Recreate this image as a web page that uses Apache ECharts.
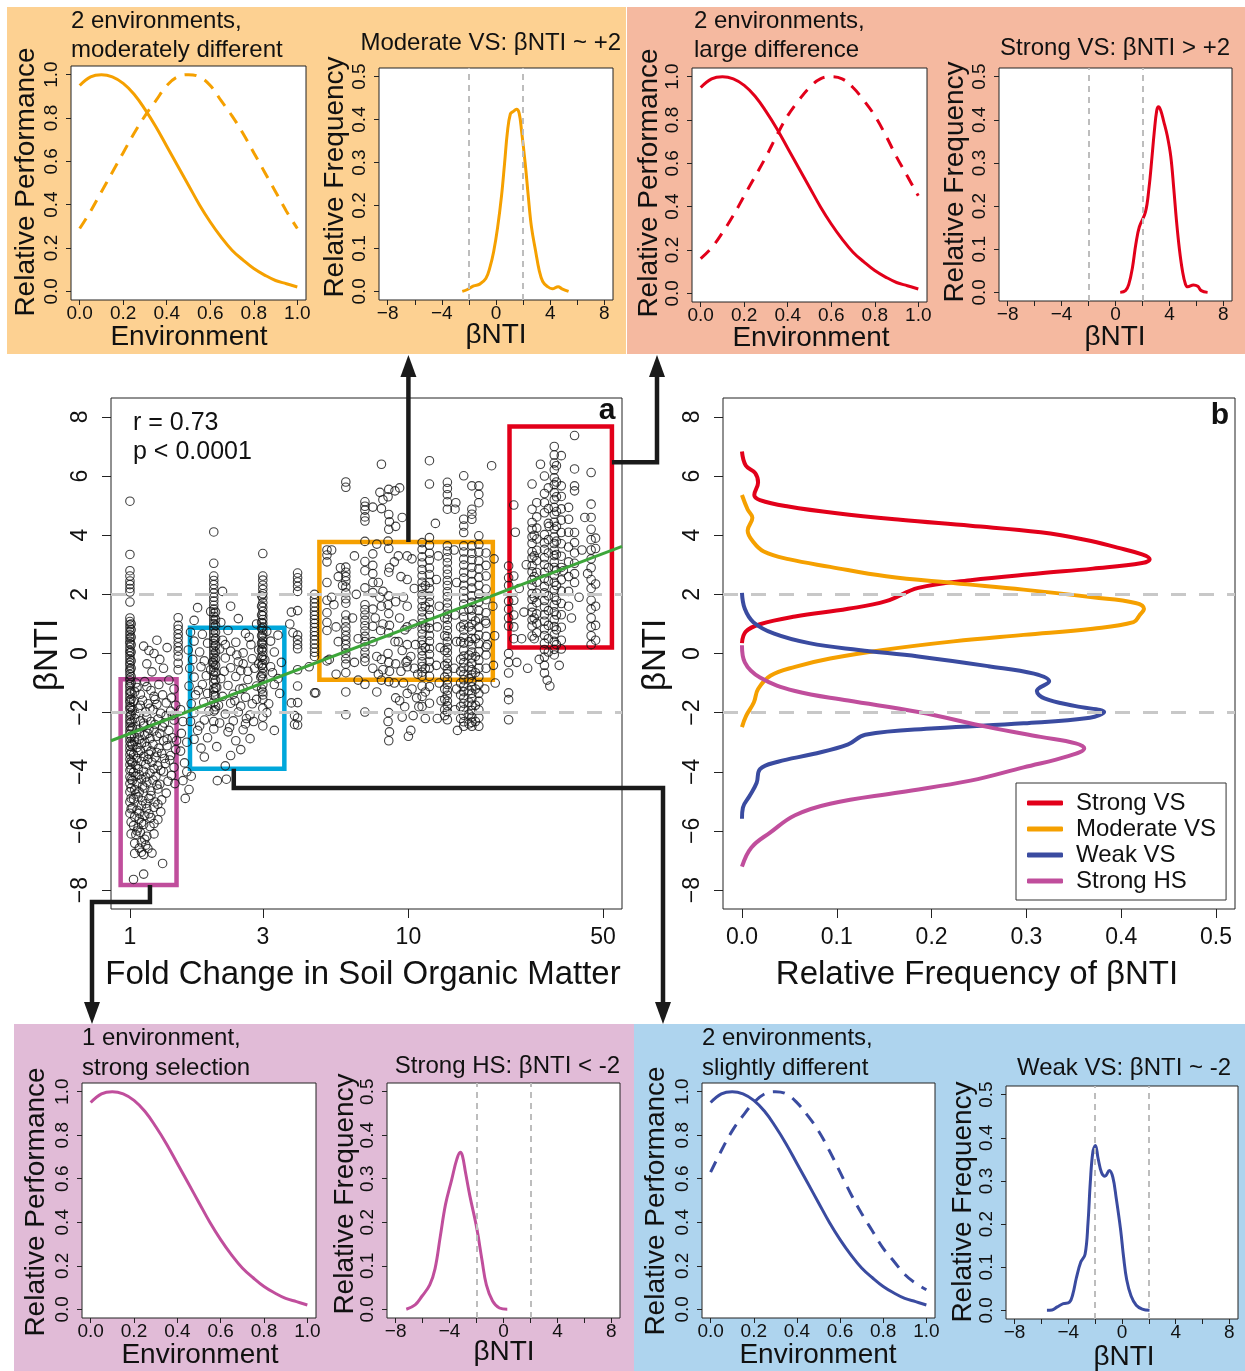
<!DOCTYPE html>
<html><head><meta charset="utf-8">
<script src="https://cdn.jsdelivr.net/npm/echarts@6/dist/echarts.min.js"></script>
<style>html,body{margin:0;padding:0;background:#fff}#c{width:1245px;height:1371px}</style>
</head><body><div id="c"></div>
<script>
// ---------------- DATA ----------------
const perfEnv = [0,0.05,0.1,0.15,0.2,0.25,0.3,0.35,0.4,0.45,0.5,0.55,0.6,0.65,0.7,0.75,0.8,0.85,0.9,0.95,1.0];
const perfSolid = [0.95,0.99,1.0,0.99,0.96,0.91,0.84,0.76,0.67,0.58,0.49,0.40,0.32,0.25,0.19,0.145,0.105,0.075,0.05,0.035,0.02];
const perfModerate = [0.29,0.37,0.46,0.55,0.64,0.73,0.81,0.88,0.95,0.99,1.0,0.99,0.95,0.88,0.81,0.73,0.64,0.55,0.46,0.37,0.29];
const perfLarge = [0.16,0.21,0.28,0.36,0.45,0.54,0.63,0.73,0.82,0.89,0.95,0.99,1.0,0.99,0.95,0.89,0.82,0.73,0.63,0.54,0.45];
const perfSlight = [0.63,0.73,0.82,0.89,0.95,0.99,1.0,0.99,0.95,0.89,0.82,0.73,0.63,0.53,0.44,0.36,0.28,0.22,0.16,0.12,0.09];

// density curves: [betaNTI, relative frequency]
const densStrongVS = [[6.83,0],[6.36,0.004],[6.1,0.014],[5.78,0.017],[5.36,0.013],[5.19,0.019],[4.97,0.049],[4.74,0.10],[4.52,0.167],[4.32,0.241],[4.10,0.315],[3.84,0.363],[3.58,0.396],[3.35,0.422],[3.19,0.430],[3.06,0.422],[2.87,0.37],[2.71,0.315],[2.48,0.241],[2.22,0.186],[1.77,0.152],[1.51,0.112],[1.25,0.056],[0.99,0.019],[0.74,0.004],[0.35,0]];
const densModerateVS = [[5.36,0],[4.87,0.006],[4.59,0.011],[4.16,0.006],[3.77,0.012],[3.45,0.023],[3.19,0.049],[2.93,0.093],[2.61,0.152],[2.38,0.223],[2.16,0.297],[1.90,0.37],[1.71,0.415],[1.51,0.424],[1.28,0.419],[1.06,0.413],[0.84,0.37],[0.63,0.297],[0.41,0.223],[0.12,0.149],[-0.17,0.093],[-0.45,0.056],[-0.75,0.030],[-1.2,0.017],[-1.65,0.0126],[-2.11,0.0044],[-2.49,0]];
const densWeakVS = [[2.05,0],[1.51,0.003],[1.06,0.012],[0.67,0.034],[0.35,0.071],[0.12,0.123],[-0.10,0.186],[-0.43,0.26],[-0.68,0.308],[-0.94,0.324],[-1.27,0.311],[-1.52,0.319],[-1.78,0.352],[-1.98,0.382],[-2.17,0.367],[-2.36,0.297],[-2.53,0.204],[-2.75,0.130],[-3.07,0.112],[-3.40,0.075],[-3.66,0.038],[-3.91,0.019],[-4.37,0.0155],[-4.82,0.008],[-5.21,0.001],[-5.59,0]];
const densStrongHS = [[0.28,0],[-0.30,0.003],[-0.81,0.019],[-1.27,0.056],[-1.59,0.112],[-1.98,0.186],[-2.49,0.26],[-2.82,0.315],[-3.04,0.352],[-3.20,0.361],[-3.46,0.345],[-3.85,0.297],[-4.30,0.241],[-4.69,0.167],[-5.08,0.093],[-5.47,0.056],[-6.05,0.030],[-6.56,0.010],[-7.21,0]];

// scatter: vertical strips at fold-change values
const soilColFC = [1.00,1.01,1.49,2.00,2.03,2.97,3.00,4.00,4.60,5.10,5.96,6.98,7.45,9.9,11.2,11.5,11.9,13.5,13.8,15.4,15.8,16.5,16.9,17.4,17.9,19.0,22.9,23.9,27.8,28.3,28.9,30.8,31.8,33.4,34.0,35.4,37.6,39.5,45.3,47.0];
const soilColBNTI = [
 [5.15,3.35,2.8,2.62,2.45,2.33,2.2,2.08,1.74,1.2,1.08,0.97,0.86,0.74,0.63,0.52,0.41,0.33,0.21,0.1,0.02,-0.09,-0.2,-0.31,-0.4,-0.52,-0.6,-0.71,-0.83,-0.92,-1.04,-1.13,-1.26,-1.35,-1.47,-1.58,-1.66,-1.79,-1.88,-2.01,-2.12,-2.24,-2.35,-2.47,-2.6,-2.72,-2.86,-2.98,-3.13,-3.27,-3.42,-3.58,-3.76,-3.95,-4.17,-4.4,-4.68,-5.02,-5.4],
 [1.0,0.8,0.55,0.3,0.05,-0.25,-0.5,-0.78,-1.0,-1.3,-1.55,-1.82,-2.08,-2.32,-2.55,-2.8,-3.05,-3.35,-3.65,-3.9,-4.25,-4.55,-4.9,-5.25,-5.7,-6.1],
 [1.21,0.95,0.82,0.66,0.52,0.37,0.22,0.08,-0.1,-0.33,-0.55],
 [4.11,3.05,2.62,2.47,2.33,2.18,2.04,1.9,1.77,1.63,1.5,1.37,1.25,1.13,1.01,0.9,0.78,0.67,0.55,0.44,0.33,0.21,0.1,-0.02,-0.13,-0.25,-0.36,-0.48,-0.6,-0.73,-0.86,-1.0,-1.2,-1.42,-1.65,-1.95,-2.3],
 [1.4,1.15,0.95,0.72,0.5,0.27,0.05,-0.18,-0.4,-0.65,-0.9,-1.15,-1.45,-1.8],
 [1.95,1.6,1.3,1.05,0.85,0.6,0.35,0.12,-0.12,-0.4,-0.75,-1.2],
 [3.38,2.62,2.48,2.31,2.17,2.02,1.88,1.72,1.56,1.42,1.28,1.15,1.02,0.9,0.78,0.66,0.54,0.42,0.31,0.19,0.07,-0.06,-0.2,-0.35,-0.5,-0.68,-0.86,-1.06,-1.3,-1.55,-1.85,-2.15,-2.45],
 [2.72,2.56,2.42,2.27,2.1,1.45,0.62,0.46,0.3,0.16,-0.55,-1.1,-1.66,-2.18,-2.42],
 [2.0,1.85,1.71,1.57,1.43,1.29,1.15,1.02,0.88,0.74,0.6,0.46,0.32,0.18,0.04,-0.1,-1.33],
 [3.5,3.33,3.1,2.4,1.8,1.38,1.05,0.78,-0.25],
 [5.8,5.62,2.92,2.75,2.6,2.45,2.25,2.05,1.85,1.7,1.3,1.1,0.9,0.76,0.6,0.45,0.3,0.15,0.0,-0.18,-0.36,-0.65,-1.3,-2.07],
 [5.13,4.98,4.85,4.62,4.48,3.79,3.11,2.8,2.22,1.65,1.48,1.3,1.12,0.94,0.76,0.58,0.4,0.22,0.04,-0.15,-0.27,-1.04,-1.98],
 [4.95,3.37,2.98,2.7,2.4,2.06,1.5,0.92,0.4,-0.5],
 [3.3,2.5,1.6,0.9,0.3,-0.25],
 [3.75,3.52,3.27,3.06,2.84,2.63,2.41,2.21,1.99,1.8,1.58,1.41,1.2,1.03,0.83,0.66,0.45,0.29,0.09,-0.08,-0.28,-0.44,-0.63,-0.77,-1.1,-1.45,-1.79],
 [2.3,1.6,0.9,0.2,-0.5,-1.3,-2.2],
 [6.52,5.73,3.92,3.66,3.39,3.16,2.89,2.67,2.41,2.19,1.94,1.73,1.49,1.29,1.05,0.85,0.61,0.41,0.17,-0.03,-0.27,-0.49,-0.77,-1.12,-1.68],
 [1.2,0.6,0.1,-0.4,-0.8,-1.2,-1.55,-1.9,-2.1],
 [5.79,5.58,5.37,5.13,4.88,3.64,3.46,3.24,3.07,2.85,2.68,2.47,2.3,2.09,1.92,1.71,1.54,1.33,1.16,0.95,0.78,0.57,0.4,0.19,0.03,-0.17,-0.33,-0.53,-0.69,-0.89,-1.05,-1.25,-1.41,-1.61,-1.77,-1.97,-2.24],
 [0.9,0.4,-0.2,-0.6,-1.0,-1.4,-1.8,-2.2],
 [6.01,4.54,4.31,4.09,3.64,3.43,3.19,2.99,2.75,2.55,2.31,2.11,1.87,1.67,1.43,1.23,0.99,0.79,0.55,0.35,0.11,-0.09,-0.31,-0.49,-0.71,-0.89,-1.11,-1.29,-1.51,-1.69,-1.91,-2.09,-2.31,-2.46],
 [1.5,0.9,0.4,-0.05,-0.45,-0.85,-1.25,-1.65,-2.05,-2.38],
 [5.67,4.88,4.71,4.54,3.64,3.39,3.17,2.91,2.69,2.43,2.21,1.95,1.73,1.47,1.25,0.99,0.77,0.51,0.29,0.05,-0.15,-0.33,-0.55,-0.73,-0.95,-1.13,-1.35,-1.53,-1.75,-1.93,-2.15,-2.33,-2.46],
 [1.1,0.5,-0.1,-0.65,-1.2,-1.75,-2.3],
 [5.67,5.38,5.1,3.98,3.69,3.43,3.13,2.87,2.57,2.31,2.01,1.75,1.45,1.19,0.89,0.63,0.33,0.07,-0.23,-0.49,-0.79,-1.05,-1.35,-1.61,-1.91,-2.17,-2.46],
 [3.4,2.98,2.62,2.18,1.82,1.38,1.02,0.58,0.22,-0.05],
 [2.96,2.56,2.3,1.77,1.5,1.2,0.93,0.0,-0.3,-0.66,-1.33,-1.56,-2.24],
 [5.02,2.62,1.8,1.3,0.9,0.5],
 [5.73,4.88,4.43,4.21,3.94,3.72,3.44,3.23,2.97,2.76,2.49,2.29,2.03,1.83,1.57,1.39,1.14,0.93,0.59],
 [4.0,3.3,2.6,1.9,1.2,0.5],
 [5.1,4.62,4.24,3.87,3.49,3.14,2.74,2.41,2.04,1.72,1.34,1.02,0.7],
 [6.0,5.41,5.1,4.76,4.02,3.74,3.52,3.24,3.01,2.75,2.53,2.27,2.05,1.79,1.57,1.31,1.09,0.83,0.61,0.35,0.13,-0.12,-0.4,-0.66],
 [5.6,4.9,4.4,3.85,3.4,2.9,2.45,1.95,1.45,0.95,0.5,0.05],
 [7.0,6.71,6.44,6.21,5.94,5.71,5.44,5.21,4.94,4.71,4.44,4.21,3.94,3.72,3.49,3.31,3.09,2.91,2.64,2.41,2.14,1.91,1.64,1.41,1.14,0.91,0.64,0.41,0.14,-0.05],
 [6.35,5.8,5.3,4.8,4.3,3.8,3.35,2.8,2.3,1.8,1.3,0.8,0.3],
 [6.69,5.67,5.31,4.89,4.51,4.09,3.71,3.29,2.91,2.49,2.11,1.69,1.31,0.89,0.45,0.15],
 [4.94,4.54,4.1,3.6,3.1,2.6,2.1,1.6],
 [7.37,6.24,5.67,5.5,4.09,3.75,3.4,3.05,2.7,2.4],
 [6.12,5.05,4.6,4.2,3.85,3.5,3.2,2.9,2.5,2.2,1.8,1.5,1.2,0.9,0.6,0.3],
 [3.9,3.55,2.35,1.6,0.95,0.45]
];
// scatter: loose points [fold change, betaNTI]
const soilScatterLow = [
 [1.05,-1.0],[1.13,-0.95],[1.27,-1.05],[1.38,-0.9],[1.44,-1.2],[1.04,-1.3],[1.09,-1.38],[1.19,-1.25],[1.31,-1.4],[1.41,-1.5],
 [1.03,-1.62],[1.11,-1.58],[1.16,-1.7],[1.23,-1.55],[1.35,-1.67],[1.46,-1.75],[1.02,-1.93],[1.07,-1.85],[1.14,-1.98],[1.21,-1.9],[1.29,-2.02],[1.4,-1.95],
 [1.04,-2.2],[1.09,-2.28],[1.15,-2.15],[1.19,-2.3],[1.26,-2.22],[1.33,-2.35],[1.44,-2.25],[1.02,-2.5],[1.06,-2.58],[1.12,-2.45],[1.17,-2.55],[1.22,-2.62],[1.31,-2.48],[1.38,-2.6],
 [1.04,-2.82],[1.08,-2.9],[1.13,-2.76],[1.18,-2.88],[1.25,-2.8],[1.32,-2.95],[1.42,-2.85],[1.02,-3.1],[1.06,-3.18],[1.1,-3.05],[1.15,-3.15],[1.21,-3.08],[1.27,-3.2],[1.36,-3.12],[1.46,-3.25],
 [1.03,-3.42],[1.07,-3.35],[1.12,-3.48],[1.17,-3.4],[1.23,-3.5],[1.3,-3.38],[1.4,-3.45],[1.02,-3.7],[1.05,-3.78],[1.1,-3.65],[1.14,-3.75],[1.2,-3.68],[1.26,-3.8],[1.34,-3.72],[1.44,-3.85],
 [1.03,-4.02],[1.08,-4.1],[1.12,-3.98],[1.18,-4.05],[1.24,-4.15],[1.32,-4.0],[1.41,-4.12],[1.02,-4.3],[1.06,-4.38],[1.1,-4.25],[1.15,-4.35],[1.21,-4.28],[1.28,-4.42],[1.37,-4.32],
 [1.04,-4.6],[1.08,-4.68],[1.13,-4.55],[1.19,-4.65],[1.26,-4.58],[1.35,-4.72],[1.03,-4.92],[1.07,-4.85],[1.11,-4.98],[1.17,-4.9],[1.23,-5.02],[1.3,-4.95],
 [1.02,-5.22],[1.06,-5.3],[1.1,-5.15],[1.15,-5.25],[1.22,-5.2],[1.29,-5.35],[1.04,-5.52],[1.08,-5.6],[1.13,-5.48],[1.19,-5.55],[1.26,-5.62],
 [1.03,-5.82],[1.07,-5.9],[1.12,-5.78],[1.18,-5.85],[1.05,-6.12],[1.09,-6.05],[1.15,-6.18],[1.22,-6.1],[1.04,-6.42],[1.1,-6.38],[1.14,-6.48],
 [1.04,-6.76],[1.1,-6.72],[1.12,-6.8],[1.2,-6.75],[1.31,-7.1],[1.12,-7.46],[1.03,-7.64],
 [1.12,0.25],[1.17,0.1],[1.22,0.0],[1.28,-0.2],[1.15,-0.35],[1.32,-0.5],[1.2,-0.62],[1.25,0.45],[1.36,0.2],
 [1.52,-3.3],[1.57,-3.7],[1.6,-4.0],[1.55,-4.3],[1.63,-4.6],[1.58,-4.9],[1.66,-4.15],[1.6,-3.0],[1.53,-2.7],[1.55,-2.3],[1.52,-1.9],
 [1.06,-1.15],[1.15,-1.12],[1.22,-1.45],[1.09,-1.75],[1.18,-1.85],[1.25,-1.72],[1.35,-2.1],[1.05,-2.05],[1.12,-2.35],[1.23,-2.4],[1.08,-2.68],[1.16,-2.7],[1.28,-2.7],[1.36,-2.9],
 [1.04,-2.98],[1.13,-3.0],[1.19,-3.3],[1.09,-3.28],[1.25,-3.35],[1.33,-3.55],[1.06,-3.55],[1.16,-3.58],[1.22,-3.9],[1.07,-3.9],[1.29,-3.95],[1.14,-4.18],[1.05,-4.15],[1.25,-4.45],
 [1.11,-4.48],[1.19,-4.8],[1.05,-4.75],[1.14,-5.08],[1.26,-5.1],[1.08,-5.4],[1.17,-5.42],[1.1,-5.72],[1.22,-5.75],[1.06,-6.0],[1.13,-6.28],[1.08,-6.58],[1.16,-6.6],[1.39,-3.6],[1.45,-4.4],[1.42,-2.1],[1.47,-2.95]
];
const soilScatterMid = [
 [1.75,1.55],[1.95,1.42],[2.3,1.6],[2.15,2.1],[1.7,1.12],[2.12,1.05],[2.45,1.18],[2.85,1.0],[1.65,0.72],[1.82,0.65],[2.25,0.78],[2.6,0.68],[3.1,0.75],[3.4,0.62],
 [1.7,0.42],[1.9,0.35],[2.15,0.45],[2.4,0.38],[2.72,0.3],[3.2,0.42],[1.62,0.12],[1.78,0.05],[2.1,0.15],[2.3,0.08],[2.55,0.02],[2.9,0.12],[3.3,0.05],
 [1.68,-0.2],[1.85,-0.25],[2.2,-0.15],[2.45,-0.28],[2.75,-0.18],[3.05,-0.22],[3.5,-0.3],[1.64,-0.5],[1.8,-0.45],[1.95,-0.55],[2.3,-0.48],[2.5,-0.58],[2.8,-0.5],[3.2,-0.45],
 [1.7,-0.8],[1.88,-0.75],[2.12,-0.85],[2.4,-0.78],[2.65,-0.88],[2.95,-0.8],[3.4,-0.85],[1.63,-1.1],[1.82,-1.05],[2.05,-1.15],[2.25,-1.08],[2.55,-1.18],[2.85,-1.1],[3.3,-1.05],
 [1.72,-1.4],[1.9,-1.35],[2.15,-1.45],[2.35,-1.38],[2.6,-1.48],[3.0,-1.4],[3.45,-1.35],[1.66,-1.7],[1.84,-1.65],[2.08,-1.75],[2.3,-1.68],[2.5,-1.78],[2.75,-1.7],
 [1.7,-2.0],[1.92,-1.95],[2.2,-2.05],[2.45,-1.98],[2.7,-2.08],[3.1,-2.0],[1.65,-2.3],[1.85,-2.25],[2.1,-2.35],[2.35,-2.28],[2.6,-2.38],
 [1.75,-2.6],[2.0,-2.55],[2.25,-2.65],[2.55,-2.58],[3.3,-2.6],[1.7,-2.9],[1.9,-2.85],[2.4,-2.95],[2.7,-2.88],[1.8,-3.2],[2.05,-3.15],[2.5,-3.25],[1.85,-3.5],[2.3,-3.45],[2.2,-3.8],[2.06,-4.3],[2.22,-4.25],
 [3.8,1.4],[3.75,1.0],[3.85,0.7],[3.8,-1.67],[3.9,-2.1],[3.9,-2.4],[4.65,-1.33],[4.4,-0.45],
 [2.18,-0.6],[2.38,-1.6],[2.62,-2.2],[2.48,-1.2],[2.0,-1.3],[2.55,-0.35],[2.85,-1.55],[1.98,-0.3],[2.28,-2.5],[2.65,-0.6],[2.02,-1.9],[2.78,-2.3],[3.15,-1.7],[3.25,-0.65],[2.9,-0.35],[1.76,-1.25],[1.78,-2.45],[2.42,-0.05],[2.68,0.55],[2.2,0.3]
];
const soilScatterHigh = [
 [5.3,3.5],[5.7,2.9],[5.6,2.6],[5.8,2.3],[5.3,1.9],[5.4,1.65],[5.5,0.9],[5.6,0.4],[5.2,-0.2],[5.5,-0.7],[6.4,3.3],[6.5,2.0],[6.3,1.2],[6.6,0.5],[6.4,-0.3],[6.6,-0.9],
 [7.7,3.7],[7.8,2.4],[7.6,1.2],[7.7,-0.1],[7.8,-0.7],[7.7,-1.3],
 [8.0,6.4],[7.9,5.45],[8.1,5.2],[8.0,4.9],[8.1,2.1],[7.9,1.9],[8.0,1.6],[8.1,1.0],[7.95,0.78],[8.0,-0.2],[8.1,-0.55],[8.0,-0.9],
 [8.5,5.55],[8.45,5.3],[8.5,4.7],[8.55,4.45],[8.5,4.2],[8.45,3.8],[8.5,3.55],[8.55,2.9],[8.5,2.75],[8.5,1.95],[8.45,1.65],[8.5,1.35],[8.55,0.95],[8.5,0.7],[8.45,0.0],[8.5,-0.3],[8.55,-0.6],[8.5,-0.95],[8.5,-2.0],[8.45,-2.3],[8.55,-2.65],[8.5,-2.95],
 [8.95,5.5],[9.0,4.3],[8.9,3.1],[9.0,1.75],[8.95,0.4],[9.0,-0.35],[8.9,-1.0],[9.0,-1.5],
 [9.3,5.6],[9.5,4.6],[9.2,3.3],[9.4,2.6],[9.6,1.9],[9.3,1.2],[9.7,0.8],[9.2,0.4],[9.5,0.1],[9.8,-0.3],[9.4,-0.6],[9.9,-0.45],[9.6,-1.0],[9.9,-1.35],[9.3,-1.6],[9.7,-1.8],[9.5,-2.15],[10.2,-2.6],[10.0,-2.8],
 [10.3,3.2],[10.5,2.2],[10.4,1.0],[10.6,0.3],[10.2,-0.1],[10.5,-0.5],[10.8,-0.7],[10.3,-1.2],[10.7,-1.5],[10.9,-1.8],[10.4,-2.1],
 [12.5,4.4],[12.8,3.3],[12.6,2.5],[12.9,1.6],[12.7,0.9],[13.0,0.2],[12.6,-0.4],[12.9,-1.0],[13.1,-1.6],[12.7,-2.2],
 [14.8,5.1],[14.7,4.88],[14.6,3.5],[14.9,2.4],[14.7,1.3],[14.9,0.4],[14.6,-0.5],[14.9,-1.2],[14.7,-1.9],[15.0,-2.6],
 [18.9,1.1],[19.2,0.3],[19.0,-0.5],[18.8,-1.2],[19.9,6.35],[20.3,3.2],[20.1,1.6],[20.4,0.6],[20.2,-0.4],[20.5,-1.0],
 [24.5,-0.3],[25.5,0.5],[26.0,1.4],[26.5,3.0],[25.0,2.2],[31.5,-0.9],[32.2,-1.1],[41.0,1.9],[42.0,3.5],[43.0,4.6],[29.8,6.4],[32.0,4.3],[34.8,-0.4],[36.0,2.8],[38.5,1.2],[44.0,2.7],[29.5,-0.2],[26.8,-0.5],[24.2,4.1]
];
const fitLine = [[0.855,-2.95],[58.5,3.62]];
// boxes in panel a: [fc min, fc max, bNTI min, bNTI max]
const boxHS = [0.926,1.47,-7.83,-0.87];
const boxWeak = [1.643,3.585,-3.9,0.87];
const boxModerate = [4.79,20.1,-0.89,3.77];
const boxStrong = [23.07,53.8,0.2,7.68];

const perfTicks = [0,0.2,0.4,0.6,0.8,1.0];
const densFreqTicks = [0,0.1,0.2,0.3,0.4,0.5];
const betaTicksSmall = [-8,-6,-4,-2,0,2,4,6,8];
const betaLabelsSmall = [-8,-4,0,4,8];
const betaTicksMain = [-8,-6,-4,-2,0,2,4,6,8];
const foldTicks = [1,3,10,50];
const freqTicksMain = [0,0.1,0.2,0.3,0.4,0.5];

// ---------------- STYLE ----------------
const FONT = "'Liberation Sans', Arial, Helvetica, sans-serif";
const COL = {orange:'#F5A000', red:'#E2001A', blue:'#3A4BA0', pink:'#C04E9C', cyan:'#00A7DB', green:'#3DA63A', ink:'#1a1a1a', dash:'#C8C8C8'};
const L10 = Math.log10;
const minus = v => (v < 0 ? '\u2212' + Math.abs(v) : String(v));

const grids = [
 {left:71, top:66, width:235, height:234},
 {left:379, top:68, width:234, height:232},
 {left:692, top:68, width:235, height:234},
 {left:999, top:68, width:233, height:233},
 {left:111, top:398, width:511, height:511},
 {left:723, top:398, width:512, height:511},
 {left:82, top:1083, width:234, height:235},
 {left:387, top:1083, width:233, height:235},
 {left:702, top:1083, width:233, height:235},
 {left:1006, top:1086, width:232, height:233}
].map(g => Object.assign({show:true, backgroundColor:'#fff', borderColor:'#222', borderWidth:1, containLabel:false}, g));

function axis(gi, min, max, ticks, labels, fmt, big, rot) {
  return {
    type:'value', gridIndex:gi, min, max, scale:false,
    axisLine:{show:false, onZero:false}, splitLine:{show:false},
    axisTick:{show:true, inside:false, length: big ? 9 : 5, customValues: ticks, lineStyle:{color:'#222', width:1}},
    axisLabel:{show:true, customValues: labels, formatter: fmt, rotate: rot ? 90 : 0,
      margin: rot ? (big ? 19 : 10) : (big ? 17 : 4), fontSize: big ? 23 : 19, color:'#111', fontFamily: FONT}
  };
}
const f1 = v => v.toFixed(1);
const perfX = gi => axis(gi, -0.04, 1.04, perfTicks, perfTicks, f1, false, false);
const perfY = gi => axis(gi, -0.04, 1.04, perfTicks, perfTicks, f1, false, true);
const densX = gi => axis(gi, -8.64, 8.64, betaTicksSmall, betaLabelsSmall, minus, false, false);
const densY = gi => axis(gi, -0.02, 0.52, densFreqTicks, densFreqTicks, f1, false, true);

const xAxes = [perfX(0), densX(1), perfX(2), densX(3),
  axis(4, -0.068, 1.767, foldTicks.map(L10), foldTicks.map(L10), v => String(Math.round(Math.pow(10, v))), true, false),
  axis(5, -0.02, 0.52, freqTicksMain, freqTicksMain, f1, true, false),
  perfX(6), densX(7), perfX(8), densX(9)];
const yAxes = [perfY(0), densY(1), perfY(2), densY(3),
  axis(4, -8.64, 8.64, betaTicksMain, betaTicksMain, minus, true, true),
  axis(5, -8.64, 8.64, betaTicksMain, betaTicksMain, minus, true, true),
  perfY(6), densY(7), perfY(8), densY(9)];

function perfSeries(gi, vals, color, dashed) {
  return {type:'line', xAxisIndex:gi, yAxisIndex:gi, data: perfEnv.map((x,i)=>[x, vals[i]]), smooth:0.4,
    showSymbol:false, symbol:'none', silent:true,
    lineStyle:{color, width:3, type: dashed ? [12,9] : 'solid'}};
}
const vDash = {silent:true, symbol:['none','none'], label:{show:false},
  lineStyle:{color:'#BDBDBD', width:2, type:[6,5]}, data:[{xAxis:-2},{xAxis:2}]};
function densSmall(gi, dens, color) {
  return {type:'line', xAxisIndex:gi, yAxisIndex:gi, data: dens.map(d=>[d[0], d[1]]), smooth:0.4,
    showSymbol:false, symbol:'none', silent:true, lineStyle:{color, width:3}, markLine: vDash};
}
function densBig(name, dens, color, withMark) {
  const s = {type:'line', name, xAxisIndex:5, yAxisIndex:5, data: dens.map(d=>[d[1], d[0]]), smooth:0.4,
    showSymbol:false, symbol:'none', silent:true, lineStyle:{color, width:4}, itemStyle:{color}, z:3};
  if (withMark) s.markLine = {silent:true, symbol:['none','none'], label:{show:false},
    lineStyle:{color:COL.dash, width:3, type:[15,13]}, data:[{yAxis:2},{yAxis:-2}]};
  return s;
}

const scatterData = [];
soilColFC.forEach((fc,i)=>soilColBNTI[i].forEach(b=>scatterData.push([L10(fc), b])));
[soilScatterLow, soilScatterMid, soilScatterHigh].forEach(arr=>arr.forEach(p=>scatterData.push([L10(p[0]), p[1]])));

function boxArea(b, color) {
  return [{coord:[L10(b[0]), b[2]], itemStyle:{color:'rgba(0,0,0,0)', borderColor:color, borderWidth:4.5}},
          {coord:[L10(b[1]), b[3]]}];
}

const series = [
  perfSeries(0, perfSolid, COL.orange, false),
  perfSeries(0, perfModerate, COL.orange, true),
  densSmall(1, densModerateVS, COL.orange),
  perfSeries(2, perfSolid, COL.red, false),
  perfSeries(2, perfLarge, COL.red, true),
  densSmall(3, densStrongVS, COL.red),
  {type:'scatter', xAxisIndex:4, yAxisIndex:4, data: scatterData, symbol:'circle', symbolSize:8.5, silent:true, z:2,
   itemStyle:{color:'rgba(0,0,0,0)', borderColor:'#111', borderWidth:1.1},
   markLine:{silent:true, symbol:['none','none'], label:{show:false}, lineStyle:{color:COL.dash, width:3, type:[15,13]}, data:[{yAxis:2},{yAxis:-2}]}},
  {type:'line', xAxisIndex:4, yAxisIndex:4, data: fitLine.map(p=>[L10(p[0]), p[1]]), showSymbol:false, symbol:'none', silent:true, z:4,
   lineStyle:{color:COL.green, width:3},
   markArea:{silent:true, label:{show:false}, data:[boxArea(boxHS, COL.pink), boxArea(boxWeak, COL.cyan), boxArea(boxModerate, COL.orange), boxArea(boxStrong, COL.red)]}},
  densBig('Strong VS', densStrongVS, COL.red, true),
  densBig('Moderate VS', densModerateVS, COL.orange, false),
  densBig('Weak VS', densWeakVS, COL.blue, false),
  densBig('Strong HS', densStrongHS, COL.pink, false),
  perfSeries(6, perfSolid, COL.pink, false),
  densSmall(7, densStrongHS, COL.pink),
  perfSeries(8, perfSolid, COL.blue, false),
  perfSeries(8, perfSlight, COL.blue, true),
  densSmall(9, densWeakVS, COL.blue)
];

function txt(id, s, x, y, size, opts) {
  opts = opts || {};
  return {type:'text', id, x, y, rotation: opts.rot ? Math.PI/2 : 0, z:100, silent:true,
    style:{text:s, x:0, y:0, fill:'#111', font:(opts.bold?'bold ':'') + size + 'px ' + FONT,
      textAlign: opts.align || 'center', align: opts.align || 'center', textVerticalAlign:'middle', verticalAlign:'middle'}};
}
function rect(id, x, y, w, h, fill) {
  return {type:'rect', id, z:-100, silent:true, shape:{x, y, width:w, height:h}, style:{fill}};
}
const staticGraphics = [
  rect('bg1', 7, 7, 619, 347, '#FDD192'),
  rect('bg2', 627, 7, 618, 347, '#F5B9A0'),
  rect('bg3', 14, 1024, 620, 347, '#E1BBD7'),
  rect('bg4', 634, 1024, 611, 347, '#AED4EE'),
  txt('t1', '2 environments,', 71, 21, 24, {align:'left'}),
  txt('t2', 'moderately different', 71, 50, 24, {align:'left'}),
  txt('t3', 'Moderate VS: \u03B2NTI ~ +2', 621, 43, 24, {align:'right'}),
  txt('t4', 'Relative Performance', 26, 182, 28, {rot:true}),
  txt('t5', 'Environment', 189, 337, 28),
  txt('t6', 'Relative Frequency', 335, 177, 28, {rot:true}),
  txt('t7', '\u03B2NTI', 496, 335, 28),
  txt('r1', '2 environments,', 694, 21, 24, {align:'left'}),
  txt('r2', 'large difference', 694, 50, 24, {align:'left'}),
  txt('r3', 'Strong VS: \u03B2NTI > +2', 1230, 48, 24, {align:'right'}),
  txt('r4', 'Relative Performance', 649, 183, 28, {rot:true}),
  txt('r5', 'Environment', 811, 338, 28),
  txt('r6', 'Relative Frequency', 955, 182, 28, {rot:true}),
  txt('r7', '\u03B2NTI', 1115, 337, 28),
  txt('b1', '1 environment,', 82, 1038, 24, {align:'left'}),
  txt('b2', 'strong selection', 82, 1068, 24, {align:'left'}),
  txt('b3', 'Strong HS: \u03B2NTI < -2', 620, 1066, 24, {align:'right'}),
  txt('b4', 'Relative Performance', 36, 1202, 28, {rot:true}),
  txt('b5', 'Environment', 200, 1355, 28),
  txt('b6', 'Relative Frequency', 345, 1194, 28, {rot:true}),
  txt('b7', '\u03B2NTI', 504, 1352, 28),
  txt('w1', '2 environments,', 702, 1038, 24, {align:'left'}),
  txt('w2', 'slightly different', 702, 1068, 24, {align:'left'}),
  txt('w3', 'Weak VS: \u03B2NTI ~ -2', 1231, 1068, 24, {align:'right'}),
  txt('w4', 'Relative Performance', 656, 1201, 28, {rot:true}),
  txt('w5', 'Environment', 818, 1355, 28),
  txt('w6', 'Relative Frequency', 963, 1202, 28, {rot:true}),
  txt('w7', '\u03B2NTI', 1124, 1357, 28),
  txt('m1', '\u03B2NTI', 48, 655, 33, {rot:true}),
  txt('m2', 'Fold Change in Soil Organic Matter', 363, 975, 33),
  txt('m3', '\u03B2NTI', 656, 655, 33, {rot:true}),
  txt('m4', 'Relative Frequency of \u03B2NTI', 977, 975, 33),
  txt('m5', 'r = 0.73', 133, 423, 25, {align:'left'}),
  txt('m6', 'p < 0.0001', 133, 452, 25, {align:'left'}),
  txt('m7', 'a', 607, 411, 30, {bold:true}),
  txt('m8', 'b', 1220, 416, 30, {bold:true})
];

const option = {
  animation:false,
  backgroundColor:'#fff',
  grid: grids, xAxis: xAxes, yAxis: yAxes, series,
  legend:{show:true, data:['Strong VS','Moderate VS','Weak VS','Strong HS'], orient:'vertical', left:1016, top:783,
    icon:'roundRect', itemWidth:36, itemHeight:5, itemGap:0, padding:[7,10,6,11],
    backgroundColor:'#fff', borderColor:'#333', borderWidth:1, selectedMode:false,
    textStyle:{fontSize:24, fontFamily:FONT, color:'#111', lineHeight:26, padding:[0,0,0,8]}},
  graphic: staticGraphics
};

const chart = echarts.init(document.getElementById('c'));
chart.setOption(option);

// arrows derived from the boxes' data coordinates
function px(p) { return chart.convertToPixel({gridIndex:4}, [L10(p[0]), p[1]]); }
function arrow(id, pts, dir) {
  const tip = pts[pts.length-1];
  const L = 22, W = 8;
  let base, tri;
  if (dir === 'up') { base = [tip[0], tip[1]+L]; tri = [[tip[0], tip[1]], [tip[0]-W, tip[1]+L], [tip[0]+W, tip[1]+L]]; }
  else { base = [tip[0], tip[1]-L]; tri = [[tip[0], tip[1]], [tip[0]-W, tip[1]-L], [tip[0]+W, tip[1]-L]]; }
  const line = pts.slice(0, -1).concat([base]);
  return [
    {type:'polyline', id:id+'l', z:90, silent:true, shape:{points:line}, style:{stroke:COL.ink, lineWidth:4.5, fill:null, lineJoin:'miter'}},
    {type:'polygon', id:id+'h', z:91, silent:true, shape:{points:tri}, style:{fill:COL.ink}}
  ];
}
const pO = px([10, boxModerate[3]]);
const pR = px([boxStrong[1], 6.47]);
const pH = px([1.18, boxHS[2]]);
const pW = px([2.36, boxWeak[2]]);
const arrows = [].concat(
  arrow('aO', [[pO[0], pO[1]], [pO[0], 355]], 'up'),
  arrow('aR', [[pR[0], pR[1]], [657, pR[1]], [657, 355]], 'up'),
  arrow('aH', [[pH[0], pH[1]], [pH[0], 902], [92, 902], [92, 1024]], 'down'),
  arrow('aW', [[pW[0], pW[1]], [pW[0], 788], [663, 788], [663, 1024]], 'down')
);
chart.setOption({graphic: staticGraphics.concat(arrows)});
</script></body></html>
